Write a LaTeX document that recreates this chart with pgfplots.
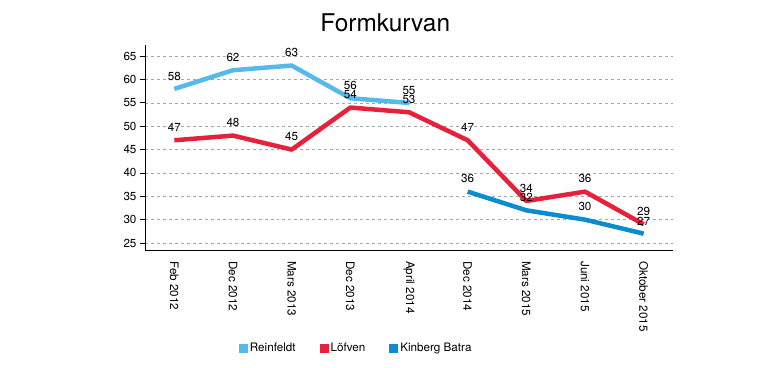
\documentclass[border=0pt]{standalone}
\usepackage{pgfplots}
\pgfplotsset{compat=1.18}
\usepackage{fontspec}
\setmainfont{TeX Gyre Heros}
\definecolor{reinf}{HTML}{55BAE9}
\definecolor{lofv}{HTML}{E6213B}
\definecolor{kb}{HTML}{0A8DCF}
\begin{document}
\begin{tikzpicture}
\useasboundingbox (-145bp,-118bp) rectangle (622bp,250bp);
\begin{axis}[
  at={(0,0)}, anchor=south west,
  scale only axis, width=528bp, height=205bp,
  xmin=-0.5, xmax=8.5, ymin=23.5, ymax=67.4,
  axis lines=left,
  axis line style={-, line width=0.9bp, black},
  xtick={0,...,8},
  xticklabels={Feb 2012,Dec 2012,Mars 2013,Dec 2013,April 2014,Dec 2014,Mars 2015,Juni 2015,Oktober 2015},
  major x tick style={draw=none},
  extra x ticks={-0.5,0.5,...,8.5},
  extra x tick labels={},
  extra x tick style={tick style={draw=black, line width=0.9bp}, major tick length=6bp, tick align=outside, grid=none},
  xticklabel style={rotate=-90, anchor=west, font=\fontsize{11.7}{13}\selectfont, inner xsep=6bp},
  ytick={25,30,...,65},
  yticklabel style={font=\fontsize{11.7}{13}\selectfont},
  y tick style={draw=black, line width=0.9bp},
  tick align=outside, major tick length=5bp,
  ymajorgrids,
  y grid style={dashed, gray!70, line width=0.6bp},
  /pgf/number format/assume math mode=true,
  title={Formkurvan},
  title style={at={(0.455,1)}, anchor=center, yshift=16bp, font=\fontsize{24.5}{28}\selectfont},
  nodes near coords,
  every node near coord/.append style={font=\fontsize{11.7}{13}\selectfont, text=black, anchor=south, yshift=3bp},
  legend columns=3,
  legend style={at={(0.40,0)}, anchor=center, yshift=-98bp, draw=none, font=\fontsize{11.7}{13}\selectfont,
    /tikz/every even column/.append style={column sep=22bp}},
  legend image code/.code={\fill[#1, draw=none] (0bp,-4.5bp) rectangle (9bp,4.5bp);},
  line join=round,
]
\addplot[color=reinf, line width=4.5bp, mark=none] coordinates {(0,58)(1,62)(2,63)(3,56)(4,55)};
\addlegendentry{Reinfeldt}
\addplot[color=lofv, line width=4.5bp, mark=none] coordinates {(0,47)(1,48)(2,45)(3,54)(4,53)(5,47)(6,34)(7,36)(8,29)};
\addlegendentry{Löfven}
\addplot[color=kb, line width=4.5bp, mark=none] coordinates {(5,36)(6,32)(7,30)(8,27)};
\addlegendentry{Kinberg Batra}
\end{axis}
\end{tikzpicture}
\end{document}
